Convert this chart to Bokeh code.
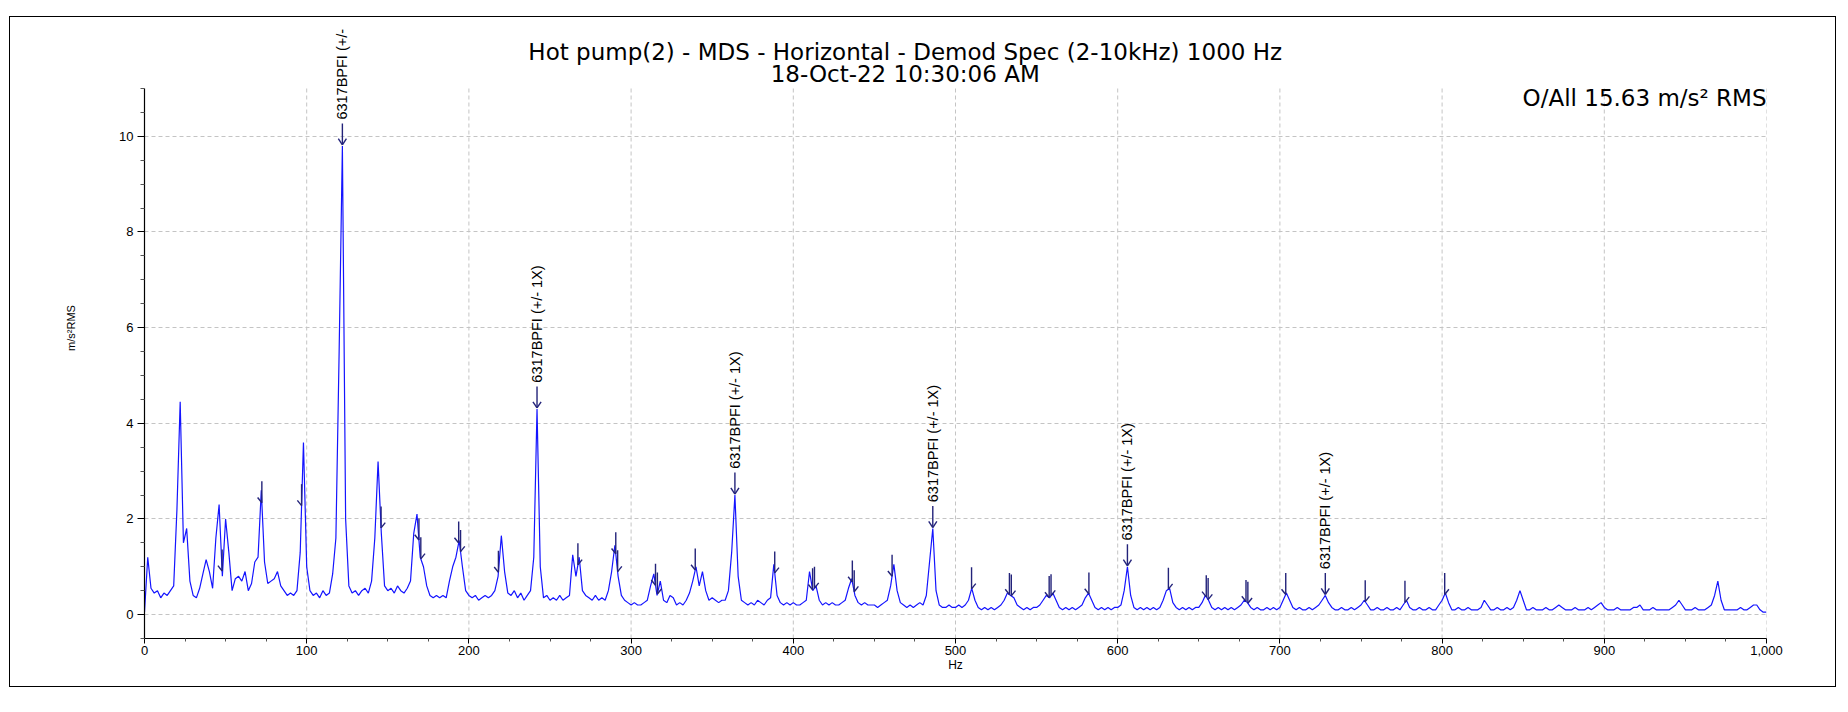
import numpy as np
from bokeh.plotting import figure
from bokeh.models import Range1d, FixedTicker, Label
from bokeh.embed import file_html
from bokeh.resources import INLINE

# ---------------- data ----------------
title_line1 = "Hot pump(2) - MDS - Horizontal - Demod Spec (2-10kHz) 1000 Hz"
title_line2 = "18-Oct-22 10:30:06 AM"
overall_text = "O/All 15.63 m/s\u00b2 RMS"
x_label = "Hz"
y_label = "m/s\u00b2RMS"
# one label per BPFI harmonic (the first one is cut by the chart border in the source)
fault_labels = ["6317BPFI (+/-", "6317BPFI (+/- 1X)", "6317BPFI (+/- 1X)",
                "6317BPFI (+/- 1X)", "6317BPFI (+/- 1X)", "6317BPFI (+/- 1X)"]

freq_step = 2.0  # Hz per spectral line
amp_rows = [
    # 0 - 48 Hz
    [0.05, 1.2, 0.55, 0.45, 0.5, 0.35, 0.45, 0.4, 0.5, 0.6, 2.2, 4.45, 1.5, 1.8, 0.7, 0.4, 0.35, 0.55, 0.85, 1.15, 0.9, 0.55, 1.6, 2.3, 0.8],
    # 50 - 98
    [2.0, 1.3, 0.5, 0.75, 0.8, 0.7, 0.9, 0.5, 0.65, 1.1, 1.2, 2.6, 1.1, 0.65, 0.7, 0.75, 0.9, 0.6, 0.5, 0.4, 0.45, 0.4, 0.5, 1.3, 3.6],
    # 100 - 148
    [1.0, 0.5, 0.4, 0.45, 0.35, 0.5, 0.4, 0.45, 0.85, 1.6, 5.5, 9.8, 2.0, 0.6, 0.45, 0.5, 0.4, 0.5, 0.55, 0.45, 0.7, 1.6, 3.2, 1.7, 0.6],
    # 150 - 198
    [0.5, 0.55, 0.45, 0.6, 0.5, 0.45, 0.55, 0.7, 1.7, 2.1, 1.2, 1.0, 0.6, 0.4, 0.35, 0.4, 0.35, 0.4, 0.35, 0.7, 1.0, 1.2, 1.55, 1.0, 0.5],
    # 200 - 248
    [0.4, 0.35, 0.4, 0.3, 0.35, 0.4, 0.35, 0.4, 0.5, 0.8, 1.65, 0.9, 0.45, 0.4, 0.5, 0.35, 0.45, 0.3, 0.4, 0.5, 1.2, 4.3, 1.0, 0.35, 0.4],
    # 250 - 298
    [0.3, 0.35, 0.3, 0.4, 0.3, 0.35, 0.4, 1.25, 0.8, 1.2, 0.5, 0.4, 0.35, 0.3, 0.4, 0.3, 0.35, 0.3, 0.5, 0.9, 1.45, 0.8, 0.4, 0.3, 0.25],
    # 300 - 348
    [0.2, 0.25, 0.2, 0.2, 0.25, 0.3, 0.6, 0.85, 0.4, 0.7, 0.3, 0.25, 0.4, 0.35, 0.2, 0.25, 0.2, 0.3, 0.45, 0.7, 1.0, 0.6, 0.9, 0.5, 0.3],
    # 350 - 398
    [0.35, 0.3, 0.25, 0.3, 0.3, 0.5, 1.3, 2.5, 0.8, 0.3, 0.25, 0.2, 0.25, 0.2, 0.3, 0.25, 0.2, 0.3, 0.35, 1.05, 0.4, 0.25, 0.2, 0.25, 0.2],
    # 400 - 448
    [0.25, 0.2, 0.2, 0.25, 0.3, 0.9, 0.5, 0.6, 0.3, 0.2, 0.25, 0.2, 0.25, 0.2, 0.2, 0.25, 0.3, 0.55, 0.75, 0.4, 0.25, 0.2, 0.25, 0.2, 0.2],
    # 450 - 498
    [0.2, 0.15, 0.2, 0.25, 0.3, 0.6, 1.05, 0.5, 0.25, 0.2, 0.15, 0.2, 0.15, 0.2, 0.25, 0.2, 0.4, 1.1, 1.8, 0.5, 0.2, 0.15, 0.15, 0.2, 0.15],
    # 500 - 548
    [0.15, 0.2, 0.15, 0.2, 0.3, 0.55, 0.3, 0.15, 0.1, 0.15, 0.1, 0.15, 0.1, 0.15, 0.2, 0.3, 0.45, 0.4, 0.35, 0.2, 0.15, 0.1, 0.15, 0.1, 0.15],
    # 550 - 598
    [0.15, 0.2, 0.3, 0.4, 0.35, 0.45, 0.3, 0.15, 0.1, 0.15, 0.1, 0.15, 0.1, 0.15, 0.2, 0.35, 0.45, 0.3, 0.15, 0.1, 0.15, 0.1, 0.15, 0.1, 0.15],
    # 600 - 648
    [0.15, 0.2, 0.5, 1.0, 0.4, 0.15, 0.1, 0.15, 0.1, 0.15, 0.1, 0.15, 0.1, 0.15, 0.3, 0.5, 0.55, 0.25, 0.15, 0.1, 0.15, 0.1, 0.15, 0.1, 0.15],
    # 650 - 698
    [0.15, 0.25, 0.4, 0.3, 0.15, 0.1, 0.15, 0.1, 0.15, 0.1, 0.15, 0.1, 0.15, 0.2, 0.3, 0.25, 0.15, 0.1, 0.15, 0.1, 0.1, 0.15, 0.1, 0.15, 0.1],
    # 700 - 748
    [0.15, 0.3, 0.45, 0.3, 0.15, 0.1, 0.15, 0.1, 0.1, 0.15, 0.1, 0.15, 0.2, 0.3, 0.4, 0.25, 0.15, 0.1, 0.1, 0.15, 0.1, 0.1, 0.15, 0.1, 0.15],
    # 750 - 798
    [0.2, 0.3, 0.2, 0.1, 0.1, 0.15, 0.1, 0.1, 0.15, 0.1, 0.1, 0.15, 0.1, 0.2, 0.3, 0.15, 0.1, 0.1, 0.15, 0.1, 0.1, 0.15, 0.1, 0.1, 0.2],
    # 800 - 848
    [0.3, 0.45, 0.25, 0.1, 0.1, 0.15, 0.1, 0.1, 0.15, 0.1, 0.1, 0.1, 0.15, 0.3, 0.2, 0.1, 0.1, 0.15, 0.1, 0.1, 0.15, 0.1, 0.15, 0.3, 0.5],
    # 850 - 898
    [0.3, 0.1, 0.1, 0.15, 0.1, 0.1, 0.1, 0.15, 0.1, 0.1, 0.15, 0.2, 0.15, 0.1, 0.1, 0.1, 0.15, 0.1, 0.1, 0.1, 0.15, 0.1, 0.15, 0.2, 0.25],
    # 900 - 948
    [0.15, 0.1, 0.1, 0.1, 0.15, 0.1, 0.1, 0.1, 0.1, 0.15, 0.15, 0.2, 0.1, 0.1, 0.1, 0.15, 0.1, 0.1, 0.1, 0.1, 0.1, 0.15, 0.2, 0.3, 0.2],
    # 950 - 998
    [0.1, 0.1, 0.1, 0.15, 0.1, 0.1, 0.1, 0.15, 0.2, 0.4, 0.7, 0.3, 0.1, 0.1, 0.1, 0.1, 0.1, 0.15, 0.1, 0.1, 0.15, 0.2, 0.2, 0.1, 0.05],
]
amp_last = [0.05]  # 1000 Hz

bpfi_hz = 121.35        # bearing 6317 inner race defect frequency
run_speed_hz = 24.5     # 1X sideband spacing
harmonic_orders = [1, 2, 3, 4, 5, 6]
sideband_orders = [1, 2, 3]

x_ticks = [0, 100, 200, 300, 400, 500, 600, 700, 800, 900, 1000]
x_tick_labels = ["0", "100", "200", "300", "400", "500", "600", "700", "800", "900", "1,000"]
y_ticks = [0, 2, 4, 6, 8, 10]
y_tick_labels = ["0", "2", "4", "6", "8", "10"]
y_axis_min, y_axis_max = -0.5, 11.0

# ---------------- build ----------------
amps = np.array([v for row in amp_rows for v in row] + amp_last)
freqs = np.arange(len(amps)) * freq_step

SPEC_COLOR = "#1414ff"
MARK_COLOR = "#23237a"
FONT = "Liberation Sans"
TFONT = "DejaVu Sans"

W, H = 1827, 671
BOTTOM = 50          # px below the frame
AXIS_TOP_PX = 71     # px from canvas top to the top of the value axis
frame_h = H - BOTTOM
y_top = (y_axis_max * frame_h - AXIS_TOP_PX * y_axis_min) / (frame_h - AXIS_TOP_PX)

p = figure(width=W, height=H,
           x_range=Range1d(0, 1000), y_range=Range1d(y_axis_min, y_top),
           output_backend="svg", toolbar_location=None,
           min_border_left=134, min_border_right=71,
           min_border_top=0, min_border_bottom=BOTTOM)
p.styles = {"border": "1.5px solid black", "margin-top": "16px", "margin-left": "9px"}
p.outline_line_color = None
p.background_fill_color = "white"
p.border_fill_color = "white"

# grid
p.ygrid.grid_line_color = "#c4c4c4"
p.ygrid.grid_line_dash = "4 3"
p.ygrid.grid_line_width = 1
p.xgrid.visible = False
p.segment(x0=x_ticks, y0=[y_axis_min] * len(x_ticks), x1=x_ticks, y1=[y_axis_max] * len(x_ticks),
          line_color="#c4c4c4", line_dash="4 3", line_width=1, level="underlay")

# axes
x_minor = [t + d for t in x_ticks[:-1] for d in (25, 50, 75)]
y_minor = [t + d for t in y_ticks for d in (0.5, 1.0, 1.5)] + [-0.5]
y_minor = [m for m in y_minor if m <= y_axis_max]
p.xaxis.ticker = FixedTicker(ticks=x_ticks, minor_ticks=x_minor)
p.yaxis.ticker = FixedTicker(ticks=y_ticks, minor_ticks=y_minor)
p.yaxis.bounds = (y_axis_min, y_axis_max)
p.xaxis.major_label_overrides = {t: s for t, s in zip(x_ticks, x_tick_labels)}
p.yaxis.major_label_overrides = {t: s for t, s in zip(y_ticks, y_tick_labels)}
for ax in (p.xaxis, p.yaxis):
    ax.axis_line_color = "black"
    ax.axis_line_width = 1.2
    ax.major_tick_line_color = "black"
    ax.minor_tick_line_color = "#555555"
    ax.major_tick_in = 0
    ax.minor_tick_in = 0
    ax.major_label_text_font = FONT
    ax.major_label_text_font_size = "13px"
    ax.major_label_text_color = "black"
    ax.axis_label_text_font = FONT
    ax.axis_label_text_font_style = "normal"
    ax.axis_label_text_color = "black"
p.yaxis.major_tick_out = 7
p.yaxis.minor_tick_out = 4
p.yaxis.major_label_standoff = 4
p.xaxis.major_tick_out = 5
p.xaxis.minor_tick_out = 3
p.xaxis.major_label_standoff = 2
p.xaxis.axis_label = x_label
p.xaxis.axis_label_text_font_size = "12px"
p.xaxis.axis_label_standoff = 0
p.yaxis.axis_label = y_label
p.yaxis.axis_label_text_font_size = "11px"
p.yaxis.axis_label_standoff = 39

# spectrum
p.line(freqs, amps, line_color=SPEC_COLOR, line_width=1.2)

# fault-frequency markers
hx0, hy0, hx1, hy1 = [], [], [], []
label_pos = []
for n in harmonic_orders:
    h = n * bpfi_hz
    win = np.where(np.abs(freqs - h) <= 3.0)[0]
    i = win[np.argmax(amps[win])]
    fx, a = freqs[i], amps[i]
    hx0 += [fx, fx - 2.5, fx + 2.5]
    hy0 += [a + 0.03, a + 0.15, a + 0.15]
    hx1 += [fx, fx, fx]
    hy1 += [a + 0.47, a + 0.02, a + 0.02]
    label_pos.append((fx, a + 0.55))
p.segment(hx0, hy0, hx1, hy1, line_color=MARK_COLOR, line_width=1.4)

sx0, sy0, sx1, sy1 = [], [], [], []
for n in harmonic_orders:
    h = n * bpfi_hz
    for k in sideband_orders:
        for side in (-1, 1):
            f = h + side * k * run_speed_hz
            a = float(np.interp(f, freqs, amps))
            sx0 += [f, f + side * 2.6]
            sy0 += [a, a + 0.11]
            sx1 += [f, f]
            sy1 += [a + 0.45, a]
p.segment(sx0, sy0, sx1, sy1, line_color=MARK_COLOR, line_width=1.4)

for (fx, yy), txt in zip(label_pos, fault_labels):
    p.add_layout(Label(x=fx, y=yy, text=txt, angle=np.pi / 2,
                       text_align="left", text_baseline="middle",
                       text_font=FONT, text_font_size="14.5px",
                       text_color="black"))

# titles & overall value
p.add_layout(Label(x=469, y=11.77, text=title_line1, text_align="center",
                   text_baseline="middle", text_font=TFONT,
                   text_font_size="23px", text_color="black"))
p.add_layout(Label(x=469, y=11.31, text=title_line2, text_align="center",
                   text_baseline="middle", text_font=TFONT,
                   text_font_size="23px", text_color="black"))
p.add_layout(Label(x=1000, y=10.8, text=overall_text, text_align="right",
                   text_baseline="middle", text_font=TFONT,
                   text_font_size="23px", text_color="black"))

open("out.html", "w").write(file_html(p, INLINE))
